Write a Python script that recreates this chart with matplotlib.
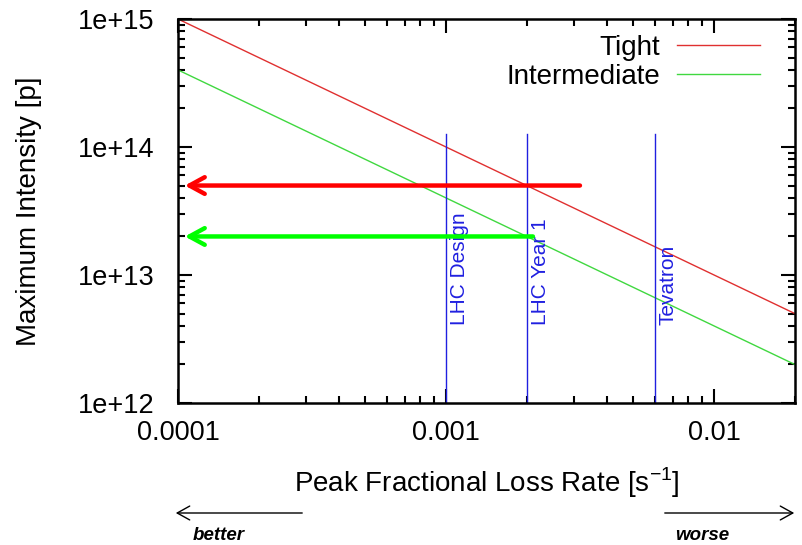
import numpy as np
import matplotlib
matplotlib.use("Agg")
import matplotlib.pyplot as plt
from matplotlib.ticker import FixedLocator, FuncFormatter, LogLocator, NullFormatter

plt.rcParams['font.family'] = ['Liberation Sans', 'DejaVu Sans']

# data
loss_rate = [1e-4, 0.02]
tight = [1e15, 5e12]
intermediate = [4e14, 2e12]

machines = ["LHC Design", "LHC Year 1", "Tevatron"]
machine_rate = [0.001, 0.002, 0.006]
machine_top = 1.26e14
label_bottom = 4.1e12

# arrows: (start x, end x, level)
red_arrow = [0.00316, 1.06e-4, 5e13]
green_arrow = [0.00211, 1.06e-4, 2e13]

xticks = [1e-4, 1e-3, 1e-2]
xticklabels = ["0.0001", "0.001", "0.01"]
yticks = [1e12, 1e13, 1e14, 1e15]

fig = plt.figure(figsize=(8.03, 5.45), dpi=100)
ax = fig.add_axes([0.2217, 0.2606, 0.768, 0.7045])

ax.plot(loss_rate, tight, color="#e03030", lw=1.0, label="Tight")
ax.plot(loss_rate, intermediate, color="#40d840", lw=1.0, label="Intermediate")

for name, r in zip(machines, machine_rate):
    ax.plot([r, r], [1e12, machine_top], color="#2020e0", lw=1.0)
    ax.annotate(name, (r, label_bottom), xytext=(3, 0), textcoords="offset points",
                rotation=90, ha="left", va="bottom", color="#2020e0", fontsize=15)

for (x0, x1, lvl), c in [(red_arrow, "#ff0000"), (green_arrow, "#00ff00")]:
    ax.annotate("", xy=(x1, lvl), xytext=(x0, lvl),
                arrowprops=dict(arrowstyle="->,head_length=1.1,head_width=0.6",
                                color=c, lw=3.2, shrinkA=0, shrinkB=0))

ax.set_xscale("log")
ax.set_yscale("log")
ax.set_xlim(1e-4, 0.02)
ax.set_ylim(1e12, 1e15)

ax.xaxis.set_major_locator(FixedLocator(xticks))
ax.set_xticklabels(xticklabels)
ax.xaxis.set_minor_locator(LogLocator(base=10, subs=np.arange(2, 10)))
ax.xaxis.set_minor_formatter(NullFormatter())
ax.yaxis.set_major_locator(FixedLocator(yticks))
ax.yaxis.set_major_formatter(FuncFormatter(lambda v, p: "1e+%d" % round(np.log10(v))))
ax.yaxis.set_minor_locator(LogLocator(base=10, subs=np.arange(2, 10)))
ax.yaxis.set_minor_formatter(NullFormatter())

ax.tick_params(which="both", direction="in", top=True, right=True, width=1.5,
               labelsize=19.5)
ax.tick_params(axis="y", pad=17)
ax.tick_params(axis="x", pad=12)
ax.tick_params(which="major", length=10)
ax.tick_params(which="minor", length=5)
for s in ax.spines.values():
    s.set_linewidth(1.8)

ax.set_xlabel("Peak Fractional Loss Rate [s$^{\\mathregular{-1}}$]", fontsize=20, labelpad=14)
ax.set_ylabel("Maximum Intensity [p]", fontsize=20, labelpad=26)

ax.legend(loc="upper right", frameon=False, markerfirst=False, fontsize=20,
          handlelength=3.0, handletextpad=0.6, labelspacing=0.12,
          borderaxespad=0.3, bbox_to_anchor=(0.975, 1.01))

# better / worse hints below the axis
fig.patches.append(matplotlib.patches.FancyArrowPatch(
    (305 / 803, 32 / 545), (173 / 803, 32 / 545), transform=fig.transFigure,
    arrowstyle="->,head_length=0.45,head_width=0.25", mutation_scale=20, lw=1.0, color="black"))
fig.patches.append(matplotlib.patches.FancyArrowPatch(
    (662 / 803, 32 / 545), (797 / 803, 32 / 545), transform=fig.transFigure,
    arrowstyle="->,head_length=0.45,head_width=0.25", mutation_scale=20, lw=1.0, color="black"))
fig.text(219 / 803, 10 / 545, "better", fontsize=13.5, fontweight="bold", style="italic",
         ha="center", va="center")
fig.text(702 / 803, 10 / 545, "worse", fontsize=13.5, fontweight="bold", style="italic",
         ha="center", va="center")

fig.savefig("out.png", dpi=100)
